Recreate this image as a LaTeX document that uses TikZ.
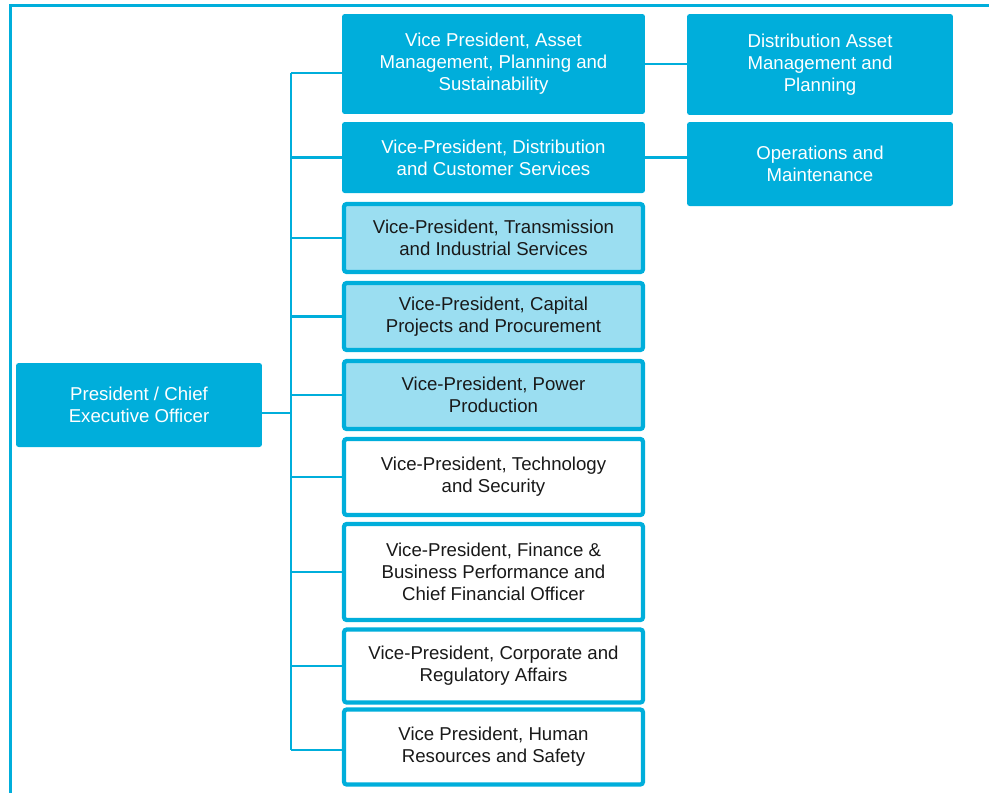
\documentclass[tikz,border=0pt]{standalone}
\usepackage{fontspec}
\setmainfont{Liberation Sans}
\usetikzlibrary{positioning}
\definecolor{orgblue}{RGB}{0,174,219}
\definecolor{orglight}{RGB}{155,222,241}
\begin{document}
\begin{tikzpicture}[x=0.02cm, y=-0.02cm,
        every node/.style={font=\fontsize{10.6}{12.5}\selectfont, align=center, inner sep=0pt},
        darkbox/.style={fill=orgblue, text=white, rounded corners=1.5pt},
        lightbox/.style={fill=orglight, draw=orgblue, line width=2.4pt, rounded corners=1.5pt, text=black!90},
        plainbox/.style={lightbox, fill=white},
        link/.style={draw=orgblue, line width=1.4pt},
        frame/.style={draw=orgblue, line width=1.4pt}]
        \useasboundingbox (0,0) rectangle (989,792);
        \draw[frame] (10.5,800) -- (10.5,5.5) -- (995,5.5);
        \node[darkbox, minimum width=4.92cm, minimum height=1.68cm] (ceo) at (139,405) {President / Chief\\Executive Officer};
        \node[darkbox, minimum width=6.06cm, minimum height=2.0cm] (vpasset) at (493.5,64) {Vice President, Asset\\Management, Planning and\\Sustainability};
        \node[darkbox, minimum width=6.06cm, minimum height=1.42cm] (vpdist) at (493.5,157.5) {Vice-President, Distribution\\and Customer Services};
        \node[lightbox, minimum width=5.98cm, minimum height=1.36cm] (vptrans) at (493.5,238) {Vice-President, Transmission\\and Industrial Services};
        \node[lightbox, minimum width=5.98cm, minimum height=1.34cm] (vpcap) at (493.5,316.5) {Vice-President, Capital\\Projects and Procurement};
        \node[lightbox, minimum width=5.98cm, minimum height=1.36cm] (vppower) at (493.5,395) {Vice-President, Power\\Production};
        \node[plainbox, minimum width=5.98cm, minimum height=1.52cm] (vptech) at (493.5,477) {Vice-President, Technology\\and Security};
        \node[plainbox, minimum width=5.98cm, minimum height=1.92cm] (vpfin) at (493.5,572) {Vice-President, Finance \&\\Business Performance and\\Chief Financial Officer};
        \node[plainbox, minimum width=5.98cm, minimum height=1.46cm] (vpcorp) at (493.5,666) {Vice-President, Corporate and\\Regulatory Affairs};
        \node[plainbox, minimum width=5.98cm, minimum height=1.5cm] (vphr) at (493.5,747) {Vice President, Human\\Resources and Safety};
        \node[darkbox, minimum width=5.32cm, minimum height=2.02cm] (distasset) at (820,64.5) {Distribution Asset\\Management and\\Planning};
        \node[darkbox, minimum width=5.32cm, minimum height=1.68cm] (opsmaint) at (820,164) {Operations and\\Maintenance};
        \coordinate (trunktop) at (291,73);
        \coordinate (trunkbot) at (291,750);
        \draw[link] (trunktop) -- (trunkbot);
        \draw[link] ([yshift=-8*0.02cm]ceo.east) -- ([yshift=-8*0.02cm]ceo.east -| trunktop);
        \draw[link] (trunktop) -- (trunktop -| vpasset.west);
        \foreach \vp in {vpdist, vptrans, vpcap, vppower, vptech, vpfin, vpcorp}
            \draw[link] (\vp.west) -- (\vp.west -| trunktop);
        \draw[link] (trunkbot) -- (trunkbot -| vphr.west);
        \draw[link] (vpasset.east) -- (vpasset.east -| distasset.west);
        \draw[link] (vpdist.east) -- (vpdist.east -| opsmaint.west);
\end{tikzpicture}
\end{document}
